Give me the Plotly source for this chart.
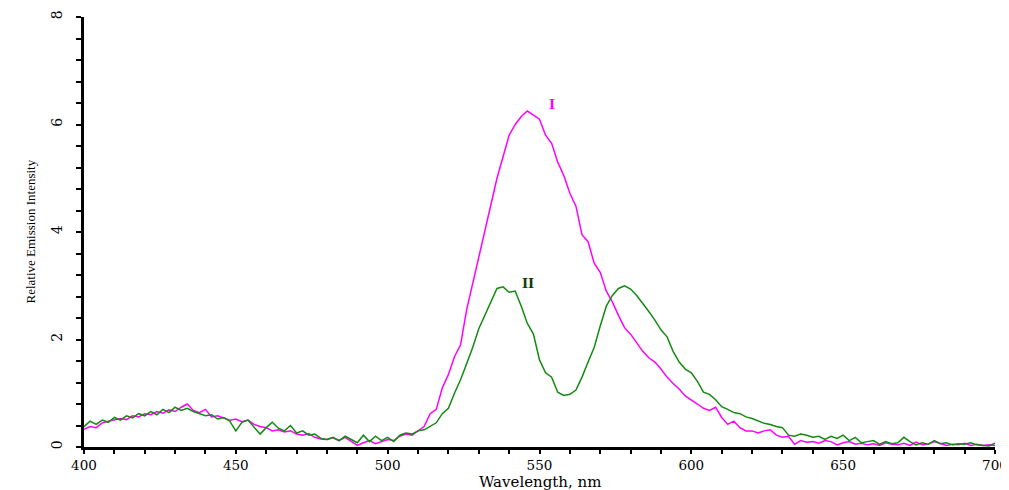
import plotly.graph_objects as go

wavelength = list(range(400, 701, 2))

curve_I = [
    0.33, 0.38, 0.36, 0.45, 0.48, 0.50, 0.53, 0.51, 0.58, 0.56,
    0.62, 0.60, 0.66, 0.63, 0.69, 0.66, 0.74, 0.80, 0.68, 0.64,
    0.70, 0.56, 0.58, 0.54, 0.50, 0.52, 0.47, 0.50, 0.42, 0.38,
    0.36, 0.30, 0.32, 0.28, 0.30, 0.24, 0.22, 0.25, 0.18, 0.15,
    0.14, 0.17, 0.12, 0.18, 0.10, 0.03, 0.08, 0.12, 0.06, 0.10,
    0.14, 0.12, 0.20, 0.24, 0.22, 0.30, 0.38, 0.62, 0.70, 1.10,
    1.35, 1.68, 1.90, 2.55, 3.05, 3.50, 4.02, 4.55, 5.00, 5.40,
    5.80, 6.00, 6.15, 6.25, 6.18, 6.10, 5.80, 5.65, 5.30, 5.05,
    4.72, 4.48, 3.95, 3.82, 3.42, 3.25, 2.90, 2.70, 2.45, 2.22,
    2.10, 1.95, 1.78, 1.66, 1.58, 1.45, 1.30, 1.18, 1.08, 0.95,
    0.88, 0.80, 0.72, 0.68, 0.74, 0.55, 0.42, 0.48, 0.36, 0.30,
    0.30, 0.26, 0.30, 0.32, 0.22, 0.18, 0.20, 0.05, 0.12, 0.09,
    0.10, 0.07, 0.12, 0.10, 0.04, 0.08, 0.10, 0.05, 0.07, 0.04,
    0.06, 0.03, 0.08, 0.05, 0.04, 0.07, 0.03, 0.09, 0.04, 0.05,
    0.10, 0.06, 0.03, 0.05, 0.04, 0.07, 0.03, 0.05, 0.03, 0.04,
    0.03,
]

curve_II = [
    0.38, 0.48, 0.42, 0.50, 0.46, 0.55, 0.50, 0.58, 0.54, 0.62,
    0.58, 0.66, 0.60, 0.70, 0.64, 0.74, 0.68, 0.72, 0.66, 0.62,
    0.58, 0.60, 0.52, 0.55, 0.48, 0.30, 0.46, 0.50, 0.38, 0.24,
    0.36, 0.46, 0.35, 0.30, 0.40, 0.26, 0.30, 0.22, 0.24, 0.16,
    0.14, 0.18, 0.12, 0.20, 0.14, 0.08, 0.22, 0.10, 0.20, 0.12,
    0.18, 0.10, 0.22, 0.26, 0.24, 0.30, 0.32, 0.38, 0.45, 0.62,
    0.72, 1.00, 1.25, 1.55, 1.85, 2.20, 2.45, 2.72, 2.95, 2.98,
    2.88, 2.90, 2.62, 2.30, 2.10, 1.62, 1.38, 1.30, 1.02, 0.96,
    0.98, 1.06, 1.30, 1.58, 1.85, 2.25, 2.62, 2.82, 2.95, 3.00,
    2.94, 2.82, 2.68, 2.52, 2.36, 2.18, 2.05, 1.78, 1.58, 1.45,
    1.38, 1.22, 1.02, 0.98, 0.88, 0.75, 0.70, 0.64, 0.62, 0.56,
    0.53, 0.48, 0.44, 0.42, 0.38, 0.36, 0.22, 0.20, 0.24, 0.22,
    0.18, 0.20, 0.14, 0.20, 0.16, 0.22, 0.12, 0.18, 0.08, 0.10,
    0.12, 0.05, 0.10, 0.06, 0.08, 0.18, 0.10, 0.04, 0.08, 0.05,
    0.12, 0.06, 0.08, 0.04, 0.06, 0.05, 0.08, 0.04, 0.03, 0.02,
    0.07,
]

labels = ["I", "II"]
label_x = [554, 546.3]
label_y = [6.38, 3.05]

assert len(curve_I) == len(wavelength) == len(curve_II)

fig = go.Figure()
fig.add_trace(go.Scatter(x=wavelength, y=curve_I, mode="lines",
                         line=dict(color="#FF00FF", width=1.5), name="I"))
fig.add_trace(go.Scatter(x=wavelength, y=curve_II, mode="lines",
                         line=dict(color="#138A13", width=1.5), name="II"))

label_colors = ["#FF00FF", "#0B3D0B"]
for t, lx, ly, c in zip(labels, label_x, label_y, label_colors):
    fig.add_annotation(x=lx, y=ly, text=f"<b>{t}</b>", showarrow=False,
                       font=dict(family="DejaVu Serif", size=13, color=c))

# page has an 8px body margin; figure sized so plot area lands at x 84..995, y 17..447
PLOT_W = 911
PLOT_H = 430
fig.add_annotation(xref="paper", yref="paper", x=(20 - 84) / PLOT_W, y=0.5,
                   text="Relative Emission Intensity", textangle=-90, showarrow=False,
                   font=dict(family="Liberation Serif", size=13, color="black"))
fig.add_annotation(xref="paper", yref="paper", x=0.5, y=-35 / PLOT_H, yanchor="middle",
                   text="Wavelength, nm", showarrow=False,
                   font=dict(family="DejaVu Serif", size=15, color="black"))

fig.update_layout(
    width=1001, height=482,
    margin=dict(l=76, r=14, t=9, b=43, autoexpand=False),
    plot_bgcolor="white", paper_bgcolor="white",
    showlegend=False,
)
fig.update_xaxes(range=[400, 700], dtick=50, tick0=400, showgrid=False, zeroline=False,
                 automargin=False, ticklabeloverflow="allow",
                 showline=True, linecolor="black", linewidth=3,
                 ticks="outside", ticklen=4, tickwidth=2, tickcolor="black",
                 minor=dict(dtick=10, ticks="outside", ticklen=4, tickwidth=2, tickcolor="black"),
                 tickfont=dict(family="DejaVu Serif", size=13.5, color="black"))
fig.update_yaxes(range=[0, 8], dtick=2, tick0=0, showgrid=False, zeroline=False,
                 automargin=False,
                 showline=True, linecolor="black", linewidth=3,
                 ticks="outside", ticklen=5, tickwidth=2, tickcolor="black",
                 minor=dict(dtick=0.4, ticks="outside", ticklen=5, tickwidth=2, tickcolor="black"),
                 tickangle=-90, ticklabelstandoff=8,
                 tickfont=dict(family="DejaVu Serif", size=14, color="black"))

fig.write_html("out.html")
